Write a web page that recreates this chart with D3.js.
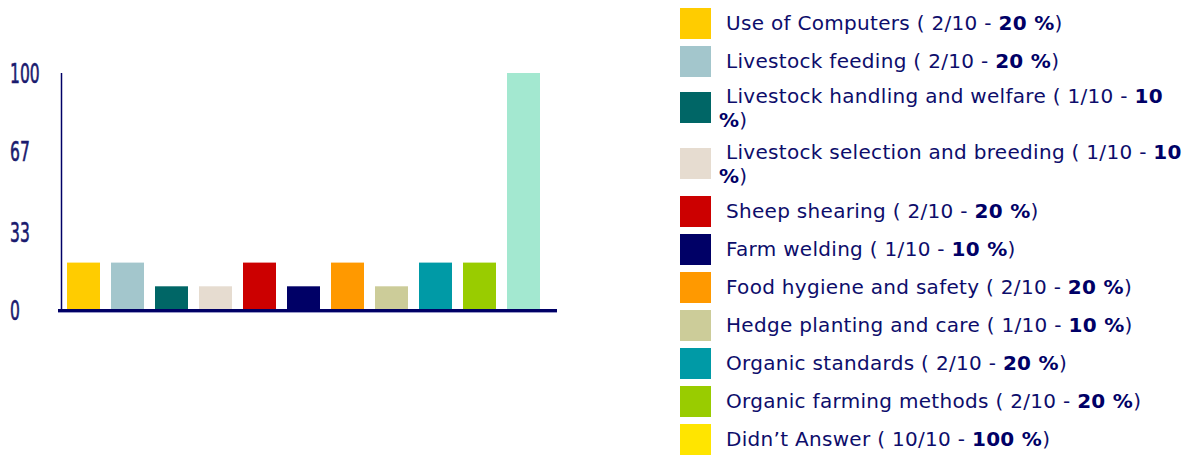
<!DOCTYPE html>
<html>
<head>
<meta charset="utf-8">
<script src="https://cdn.jsdelivr.net/npm/d3@7"></script>
<style>
  html, body { margin: 0; padding: 0; background: #ffffff; }
  svg { display: block; }
</style>
</head>
<body>
<svg id="chart" width="1184" height="455"></svg>
<script>
// ---- data ----
const categories = [
  "Use of Computers",
  "Livestock feeding",
  "Livestock handling and welfare",
  "Livestock selection and breeding",
  "Sheep shearing",
  "Farm welding",
  "Food hygiene and safety",
  "Hedge planting and care",
  "Organic standards",
  "Organic farming methods",
  "Didn\u2019t Answer"
];
const counts = [2, 2, 1, 1, 2, 1, 2, 1, 2, 2, 10];
const total = 10;
const percents = [20, 20, 10, 10, 20, 10, 20, 10, 20, 20, 100];
const barColors = ["#ffcc00", "#a3c6cc", "#006666", "#e6dcd0", "#cc0000", "#000066",
                   "#ff9900", "#cccc99", "#009aa6", "#99cc00", "#a3e8d0"];
const legendColors = ["#ffcc00", "#a3c6cc", "#006666", "#e6dcd0", "#cc0000", "#000066",
                      "#ff9900", "#cccc99", "#009aa6", "#99cc00", "#ffe500"];
const yTicks = [0, 33, 67, 100];

// ---- layout ----
const navy = "#000066";
const textColor = "#0d0d6b";
const svg = d3.select("#chart");

const x = d3.scaleBand()
  .domain(categories)
  .range([61.5, 545.5])
  .paddingInner(0.25)
  .paddingOuter(0.125);

const y = d3.scaleLinear().domain([0, 100]).range([310, 73]);

// bars
svg.append("g").selectAll("rect")
  .data(categories)
  .join("rect")
  .attr("x", d => x(d))
  .attr("width", x.bandwidth())
  .attr("y", (d, i) => y(percents[i]))
  .attr("height", (d, i) => y(0) - y(percents[i]))
  .attr("fill", (d, i) => barColors[i]);

// y axis line
svg.append("line")
  .attr("x1", 61.5).attr("x2", 61.5)
  .attr("y1", y(100)).attr("y2", y(0))
  .attr("stroke", navy).attr("stroke-width", 1.5);

// baseline
svg.append("rect")
  .attr("x", 58).attr("width", 499)
  .attr("y", y(0) - 1).attr("height", 3)
  .attr("fill", navy);
svg.append("rect")
  .attr("x", 58).attr("width", 499)
  .attr("y", y(0) + 2).attr("height", 1)
  .attr("fill", "#9a9ac8");

// y tick labels (narrow tall font)
svg.append("g").selectAll("text")
  .data(yTicks)
  .join("text")
  .attr("transform", d => `translate(10,${y(d) + 10}) scale(0.64,1)`)
  .attr("font-family", "'DejaVu Sans Condensed', 'DejaVu Sans', sans-serif")
  .attr("font-size", 27)
  .attr("fill", "#1a1a6e")
  .attr("stroke", "#1a1a6e")
  .attr("stroke-width", 0.6)
  .text(d => d);

// legend
const legend = svg.append("g");
const textX = 726, wrapX = 719, maxRight = 1186;
const fontSize = 20, lineH = 24, letterSp = 0.3;
let rowTop = 7;

categories.forEach((cat, i) => {
  const segs = [
    { t: cat + " ( " + counts[i] + "/" + total + " - ", b: false },
    { t: percents[i] + " %", b: true },
    { t: ")", b: false }
  ];
  const tokens = [];
  segs.forEach(s => {
    const parts = s.t.split(/(\s+)/).filter(p => p.length);
    parts.forEach(p => tokens.push({ t: p, b: s.b }));
  });
  const meas = legend.append("text").attr("font-family", "'DejaVu Sans', Verdana, sans-serif")
    .attr("font-size", fontSize).attr("letter-spacing", letterSp).style("white-space", "pre");
  function width(tok) {
    meas.attr("font-weight", tok.b ? "bold" : "normal").text(tok.t);
    return meas.node().getComputedTextLength();
  }
  const lines = [[]];
  let cur = textX;
  tokens.forEach((tok, k) => {
    const w = width(tok);
    const isSpace = /^\s+$/.test(tok.t);
    if (!isSpace && cur + w > maxRight && lines[lines.length - 1].length) {
      const l = lines[lines.length - 1];
      const carry = [];
      if (l.length && !/^\s+$/.test(l[l.length - 1].t) && tokens[k - 1] === l[l.length - 1]) {
        carry.push(l.pop());
      }
      while (l.length && /^\s+$/.test(l[l.length - 1].t)) l.pop();
      lines.push(carry);
      cur = wrapX + carry.reduce((a, c) => a + width(c), 0);
    }
    if (isSpace && lines[lines.length - 1].length === 0) return;
    lines[lines.length - 1].push(tok);
    cur += w;
  });
  meas.remove();

  const n = lines.length;
  const rowH = 38 + (n - 1) * 18;
  legend.append("rect")
    .attr("x", 680).attr("y", rowTop + 1 + (n - 1) * 8)
    .attr("width", 31).attr("height", 31)
    .attr("fill", legendColors[i]);

  const txt = legend.append("text")
    .attr("font-family", "'DejaVu Sans', Verdana, sans-serif")
    .attr("font-size", fontSize)
    .attr("letter-spacing", letterSp)
    .attr("fill", textColor)
    .style("white-space", "pre");
  lines.forEach((line, li) => {
    line.forEach((tok, ti) => {
      const ts = txt.append("tspan")
        .attr("font-weight", tok.b ? "bold" : "normal")
        .attr("fill", tok.b ? navy : textColor)
        .text(tok.t);
      if (ti === 0) {
        ts.attr("x", li === 0 ? textX : wrapX)
          .attr("y", rowTop + 23 - (n - 1) * 3 + li * lineH);
      }
    });
  });
  rowTop += rowH;
});
</script>
</body>
</html>
